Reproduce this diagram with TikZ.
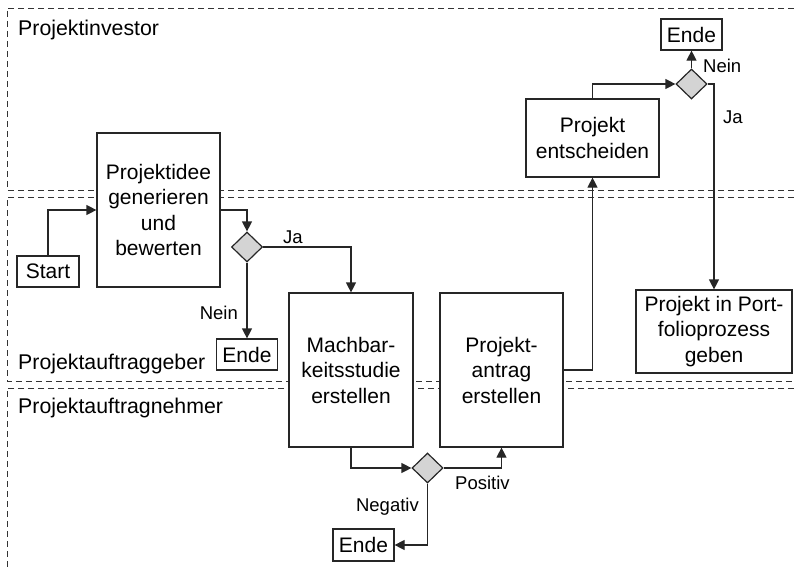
\documentclass[tikz,border=0pt]{standalone}
\usepackage{fontspec}
\setmainfont{Liberation Sans}
\usetikzlibrary{shapes.geometric,arrows.meta}
\begin{document}
\begin{tikzpicture}[x=1pt,y=-1pt,
  lane/.style={draw=black!80,line width=1pt,dash pattern=on 6pt off 4pt},
  box/.style={draw=black!85,line width=1.2pt,fill=white,rectangle,inner sep=0pt,align=center,
     font=\fontsize{21}{25.5}\selectfont},
  dia/.style={draw=black!85,line width=1.2pt,fill=black!17,diamond,inner sep=0pt,
     minimum width=31pt,minimum height=30pt},
  arr/.style={draw=black!85,line width=1.2pt,-{Triangle[length=10pt,width=10pt]}},
  lbl/.style={font=\fontsize{18.5}{22}\selectfont,inner sep=0pt},
  lanelbl/.style={font=\fontsize{21.3}{25}\selectfont,inner sep=0pt,anchor=base west}]
\useasboundingbox (0,0) rectangle (794,570);
% lanes
\draw[lane] (794,8) -- (7,8) -- (7,190) -- (794,190);
\draw[lane] (794,197) -- (7,197) -- (7,381) -- (794,381);
\draw[lane] (794,388) -- (7,388) -- (7,570);
\node[lanelbl] (l1) at (18,35) {Projektinvestor};
\node[lanelbl] (l2) at (18,369) {Projektauftraggeber};
\node[lanelbl] (l3) at (18,413) {Projektauftragnehmer};
% nodes
\node[box,minimum width=123pt,minimum height=154pt] (idee) at (158.5,210) {Projektidee\\generieren\\und\\bewerten};
\node[box,minimum width=62pt,minimum height=31pt] (start) at (48,271.5) {Start};
\node[dia] (d1) at (247,247) {};
\node[box,minimum width=61pt,minimum height=31pt] (ende1) at (247,354.5) {Ende};
\node[box,minimum width=124pt,minimum height=154pt] (mach) at (351,370) {Machbar-\\keitsstudie\\erstellen};
\node[box,minimum width=123pt,minimum height=154pt] (antrag) at (501.5,370) {Projekt-\\antrag\\erstellen};
\node[box,minimum width=133pt,minimum height=78pt] (ent) at (592.5,138) {Projekt\\entscheiden};
\node[dia] (d2) at (691.5,84) {};
\node[box,minimum width=61pt,minimum height=31pt] (ende2) at (691.5,34.5) {Ende};
\node[box,minimum width=156pt,minimum height=83pt] (port) at (714,331.5) {Projekt in Port-\\folioprozess\\geben};
\node[dia] (d3) at (427.5,468) {};
\node[box,minimum width=61pt,minimum height=32pt] (ende3) at (363.5,545) {Ende};
% connectors
\draw[arr] (start.north) |- (idee.west);
\draw[arr] (idee.east) -| (d1.north);
\draw[arr] (d1.east) -| (mach.north);
\draw[arr] (d1.south) -- (ende1.north);
\draw[arr] (mach.south) |- (d3.west);
\draw[arr] (d3.east) -| (antrag.south);
\draw[arr] (d3.south) |- (ende3.east);
\draw[arr] (antrag.east) -| (ent.south);
\draw[arr] (ent.north) |- (d2.west);
\draw[arr] (d2.north) -- (ende2.south);
\draw[arr] (d2.east) -| (port.north);
% labels
\node[lbl] (ja1) at (293,237) {Ja};
\node[lbl,anchor=east] (nein1) at (238,313) {Nein};
\node[lbl,anchor=west] (nein2) at (703,66) {Nein};
\node[lbl,anchor=west] (ja2) at (723,117) {Ja};
\node[lbl,anchor=west] (pos) at (455,483) {Positiv};
\node[lbl,anchor=east] (neg) at (419,507) {Negativ};
\end{tikzpicture}
\end{document}
